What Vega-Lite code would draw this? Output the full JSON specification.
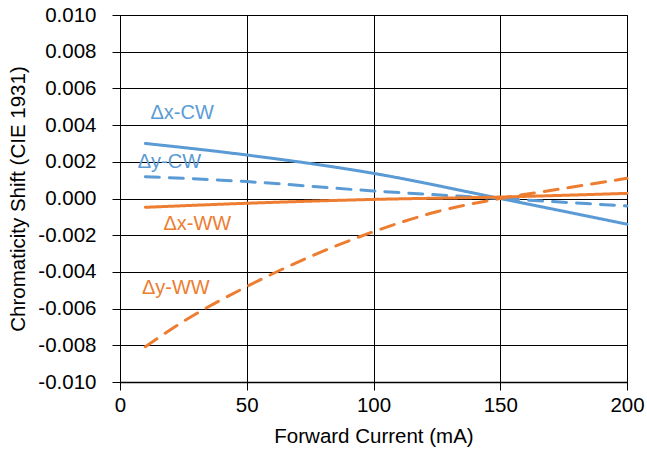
{
  "$schema": "https://vega.github.io/schema/vega-lite/v6.json",
  "width": 507,
  "height": 367,
  "autosize": "none",
  "padding": {"left": 120, "top": 15, "right": 20, "bottom": 70},
  "background": "white",
  "config": {
    "font": "Liberation Sans",
    "view": {"stroke": "black", "strokeWidth": 1},
    "axis": {
      "labelFont": "Liberation Sans",
      "titleFont": "Liberation Sans",
      "labelFontSize": 20.5,
      "titleFontSize": 20.5,
      "labelColor": "#000",
      "titleColor": "#000",
      "titleFontWeight": "normal",
      "gridColor": "#000",
      "gridOpacity": 1,
      "gridWidth": 1,
      "domainColor": "#000",
      "tickColor": "#000",
      "tickSize": 8,
      "labelFlush": false
    }
  },
  "datasets": {
    "lines": [
      {"current": 10, "shift": 0.0030, "series": "Δx-CW"},
      {"current": 50, "shift": 0.00237, "series": "Δx-CW"},
      {"current": 100, "shift": 0.00137, "series": "Δx-CW"},
      {"current": 150, "shift": 0.0, "series": "Δx-CW"},
      {"current": 200, "shift": -0.0014, "series": "Δx-CW"},
      {"current": 10, "shift": 0.00119, "series": "Δy-CW"},
      {"current": 50, "shift": 0.00092, "series": "Δy-CW"},
      {"current": 100, "shift": 0.00041, "series": "Δy-CW"},
      {"current": 150, "shift": 0.0, "series": "Δy-CW"},
      {"current": 200, "shift": -0.00041, "series": "Δy-CW"},
      {"current": 10, "shift": -0.00048, "series": "Δx-WW"},
      {"current": 50, "shift": -0.00026, "series": "Δx-WW"},
      {"current": 100, "shift": -0.00005, "series": "Δx-WW"},
      {"current": 150, "shift": 0.00008, "series": "Δx-WW"},
      {"current": 200, "shift": 0.00028, "series": "Δx-WW"},
      {"current": 10, "shift": -0.00808, "series": "Δy-WW"},
      {"current": 25, "shift": -0.0067, "series": "Δy-WW"},
      {"current": 50, "shift": -0.0048, "series": "Δy-WW"},
      {"current": 75, "shift": -0.00317, "series": "Δy-WW"},
      {"current": 100, "shift": -0.00181, "series": "Δy-WW"},
      {"current": 125, "shift": -0.00072, "series": "Δy-WW"},
      {"current": 150, "shift": 0.0, "series": "Δy-WW"},
      {"current": 175, "shift": 0.00055, "series": "Δy-WW"},
      {"current": 200, "shift": 0.0011, "series": "Δy-WW"}
    ],
    "labels": [
      {"current": 24.5, "shift": 0.00466, "series": "Δx-CW"},
      {"current": 19.5, "shift": 0.002, "series": "Δy-CW"},
      {"current": 30.5, "shift": -0.0014, "series": "Δx-WW"},
      {"current": 22, "shift": -0.0049, "series": "Δy-WW"}
    ]
  },
  "encoding": {
    "x": {
      "field": "current", "type": "quantitative",
      "scale": {"domain": [0, 200], "nice": false},
      "axis": {"values": [0, 50, 100, 150, 200], "title": "Forward Current (mA)", "titlePadding": 11, "labelPadding": 5, "domainWidth": 1.5}
    },
    "y": {
      "field": "shift", "type": "quantitative",
      "scale": {"domain": [-0.01, 0.01], "nice": false},
      "axis": {"values": [-0.01, -0.008, -0.006, -0.004, -0.002, 0, 0.002, 0.004, 0.006, 0.008, 0.01], "format": ".3f", "labelExpr": "replace(datum.label, '\u2212', '-')", "title": "Chromaticity Shift (CIE 1931)", "titlePadding": 9, "labelPadding": 16}
    },
    "color": {
      "field": "series", "type": "nominal",
      "scale": {"domain": ["Δx-CW", "Δy-CW", "Δx-WW", "Δy-WW"], "range": ["#5B9BD5", "#5B9BD5", "#ED7D31", "#ED7D31"]},
      "legend": null
    }
  },
  "layer": [
    {
      "data": {"name": "lines"},
      "mark": {"type": "line", "strokeWidth": 3, "interpolate": "monotone", "strokeCap": "round"},
      "encoding": {
        "strokeDash": {
          "field": "series", "type": "nominal",
          "scale": {"domain": ["Δx-CW", "Δy-CW", "Δx-WW", "Δy-WW"], "range": [[1, 0], [14, 10], [1, 0], [14, 10]]},
          "legend": null
        }
      }
    },
    {
      "data": {"name": "labels"},
      "mark": {"type": "text", "fontSize": 20, "align": "center", "baseline": "middle"},
      "encoding": {"text": {"field": "series"}}
    }
  ]
}
